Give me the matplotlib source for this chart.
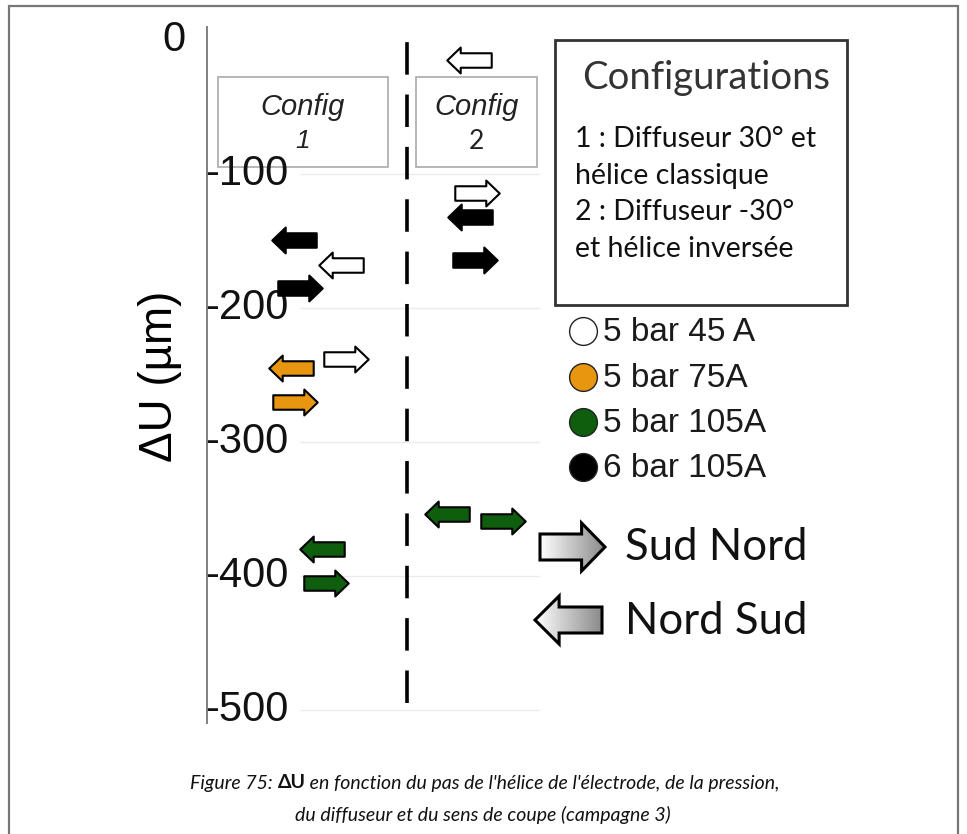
import numpy as np
import matplotlib
matplotlib.use("Agg")
import matplotlib.pyplot as plt
from matplotlib.path import Path
from matplotlib.patches import Rectangle, PathPatch
import matplotlib.transforms as mtransforms

# ---------------- data ----------------
series_labels = ["5 bar 45 A", "5 bar 75A", "5 bar 105A", "6 bar 105A"]
series_colors = ["#ffffff", "#E8960F", "#0E5E0E", "#000000"]

arrow_config = [1, 1, 1, 1, 1, 1, 1, 1, 2, 2, 2, 2, 2, 2]
arrow_series = ["6 bar 105A", "5 bar 45 A", "6 bar 105A", "5 bar 45 A",
                "5 bar 75A", "5 bar 75A", "5 bar 105A", "5 bar 105A",
                "5 bar 45 A", "5 bar 45 A", "6 bar 105A", "6 bar 105A",
                "5 bar 105A", "5 bar 105A"]
arrow_direction = ["NS", "NS", "SN", "SN", "NS", "SN", "NS", "SN",
                   "NS", "SN", "NS", "SN", "NS", "SN"]
arrow_x = [2.56, 3.94, 2.74, 4.09, 2.47, 2.59, 3.38, 3.50,
           7.71, 7.94, 7.74, 7.88, 7.06, 8.71]
delta_u = [-149, -168, -185, -238, -245, -270, -380, -405,
           -15, -114, -132, -164, -354, -359]

separator_x = 5.88
y_ticks = [0, -100, -200, -300, -400, -500]
y_tick_labels = ["0", "-100", "-200", "-300", "-400", "-500"]

config_lines = ["1 : Diffuseur 30° et", "hélice classique",
                "2 : Diffuseur -30°", "et hélice inversée"]

# ---------------- figure ----------------
W, H = 967, 834
fig = plt.figure(figsize=(W / 100, H / 100), dpi=100)
fig.patch.set_facecolor("white")

# decoration layer in pixel coordinates
deco = fig.add_axes([0, 0, 1, 1], zorder=0)
deco.set_xlim(0, W)
deco.set_ylim(H, 0)
deco.axis("off")

# outer frame (open at bottom)
deco.plot([9, 9, 958, 958], [834, 6, 6, 834], color="#777777", lw=1.6,
          solid_joinstyle="miter")

# main axes
ax_left, ax_right, ax_top, ax_bot = 207, 547, 27, 723
ax = fig.add_axes([ax_left / W, 1 - ax_bot / H, (ax_right - ax_left) / W,
                   (ax_bot - ax_top) / H], zorder=2)
ax.patch.set_alpha(0)
ax.set_xlim(0, 10)
ax.set_ylim(-509.7, 9.7)
for s in ["top", "right", "bottom"]:
    ax.spines[s].set_visible(False)
ax.spines["left"].set_color("#808080")
ax.spines["left"].set_linewidth(1.4)
ax.set_xticks([])
ax.set_yticks([])

# faint gridlines
ax.hlines(y_ticks[1:], 2.74, 9.8, color="#ebebeb", lw=1.0, zorder=0)

# tick labels
btrans = mtransforms.blended_transform_factory(ax.transAxes, ax.transData)
for v, lab in zip(y_ticks, y_tick_labels):
    if v == 0:
        ax.text(-0.064, v, lab, transform=btrans, ha="right", va="center",
                fontsize=30, family="Liberation Sans", color="#111111")
    else:
        ax.text(-0.006, v, lab, transform=btrans, ha="left", va="center",
                fontsize=30, family="Liberation Sans", color="#111111")

ax.set_ylabel("ΔU (µm)", fontsize=33, family="Liberation Sans")
ax.yaxis.set_label_coords(-0.074, 0.4986)

# separator dashed line
ax.vlines(separator_x, -495, 7, color="black", lw=2.6,
          linestyles=(0, (9, 5.5)), zorder=1)

# arrow markers
def arrow_path(direction):
    verts = np.array([(-21.5, -7), (8.5, -7), (8.5, -12.5), (21.5, 0),
                      (8.5, 12.5), (8.5, 7), (-21.5, 7), (-21.5, -7)])
    if direction == "NS":
        verts[:, 0] = -verts[:, 0]
    codes = [Path.MOVETO] + [Path.LINETO] * 6 + [Path.CLOSEPOLY]
    return Path(verts, codes)

color_map = dict(zip(series_labels, series_colors))
for x, y, s, d in zip(arrow_x, delta_u, arrow_series, arrow_direction):
    ax.plot([x], [y], linestyle="none", marker=arrow_path(d),
            markersize=32, markerfacecolor=color_map[s],
            markeredgecolor="black", markeredgewidth=1.5, zorder=3)

# config label boxes
for (x0, x1, num, numstyle, numfam) in [(218, 388, "1", "italic", "Liberation Sans"),
                                         (416, 537, "2", "normal", "Lato")]:
    deco.add_patch(Rectangle((x0, 77), x1 - x0, 90, fill=False,
                             edgecolor="#aaaaaa", lw=1.2))
    cx = (x0 + x1) / 2
    deco.text(cx, 107, "Config", ha="center", va="center", fontsize=21,
              style="italic", family="Liberation Sans", color="#222222")
    deco.text(cx, 141, num, ha="center", va="center", fontsize=19,
              style=numstyle, family=numfam, color="#222222")

# configurations box
deco.add_patch(Rectangle((555, 40), 292, 265, fill=False, edgecolor="#333333",
                         lw=2.0))
deco.text(706, 78, "Configurations", ha="center", va="center", fontsize=27.5,
          family="Lato", color="#333333")
for i, line in enumerate(config_lines):
    deco.text(575, 139 + i * 36.7, line, ha="left", va="center", fontsize=20.5,
              family="Lato", color="#111111")

# series legend
legend_y = [331, 377, 422, 467]
for lab, col, yy in zip(series_labels, series_colors, legend_y):
    deco.plot([583], [yy], marker="o", markersize=20, markerfacecolor=col,
              markeredgecolor="#222222", markeredgewidth=1.0, linestyle="none")
    deco.text(603, yy + 1, lab, ha="left", va="center", fontsize=24,
              family="Liberation Sans", color="#1a1a1a")

# direction legend (gradient arrows)
def big_arrow(x0, x1, yc, direction):
    L = x1 - x0
    head = 0.36 * L
    hh, sh = 24, 13
    if direction == "SN":
        verts = [(x0, yc - sh), (x1 - head, yc - sh), (x1 - head, yc - hh),
                 (x1, yc), (x1 - head, yc + hh), (x1 - head, yc + sh),
                 (x0, yc + sh), (x0, yc - sh)]
    else:
        verts = [(x1, yc - sh), (x0 + head, yc - sh), (x0 + head, yc - hh),
                 (x0, yc), (x0 + head, yc + hh), (x0 + head, yc + sh),
                 (x1, yc + sh), (x1, yc - sh)]
    codes = [Path.MOVETO] + [Path.LINETO] * 6 + [Path.CLOSEPOLY]
    p = Path(verts, codes)
    grad = np.linspace(0, 1, 256).reshape(1, -1)
    im = deco.imshow(grad, cmap=matplotlib.colors.LinearSegmentedColormap.from_list(
        "g", ["#ffffff", "#8a8a8a"]), extent=(x0, x1, yc + hh, yc - hh),
        aspect="auto", zorder=1)
    patch = PathPatch(p, facecolor="none", edgecolor="black", lw=2.2, zorder=2)
    deco.add_patch(patch)
    im.set_clip_path(PathPatch(p, transform=deco.transData))

big_arrow(540, 605, 547, "SN")
big_arrow(535, 602, 620, "NS")
deco.set_xlim(0, W)
deco.set_ylim(H, 0)
deco.text(625, 548, "Sud Nord", ha="left", va="center", fontsize=31.5,
          family="Lato", color="#111111")
deco.text(625, 621, "Nord Sud", ha="left", va="center", fontsize=31.5,
          family="Lato", color="#111111")

# caption with mixed styles
fig.canvas.draw()
renderer = fig.canvas.get_renderer()
cap_kw = dict(fontsize=14, family="Lato", color="#111111", va="center")
pieces = [("Figure 75: ", dict(style="italic", weight="normal")),
          ("ΔU", dict(style="normal", weight="bold")),
          (" en fonction du pas de l'hélice de l'électrode, de la pression,",
           dict(style="italic", weight="normal"))]
texts = [deco.text(0, 783, t, ha="left", **cap_kw, **kw) for t, kw in pieces]
widths = []
for t in texts:
    bb = t.get_window_extent(renderer)
    widths.append(bb.width)
total = sum(widths)
x = 485 - total / 2
for t, w in zip(texts, widths):
    t.set_x(x)
    x += w
deco.text(483, 815, "du diffuseur et du sens de coupe (campagne 3)",
          ha="center", style="italic", weight="normal", **cap_kw)

fig.savefig("out.png", dpi=100, facecolor="white")
